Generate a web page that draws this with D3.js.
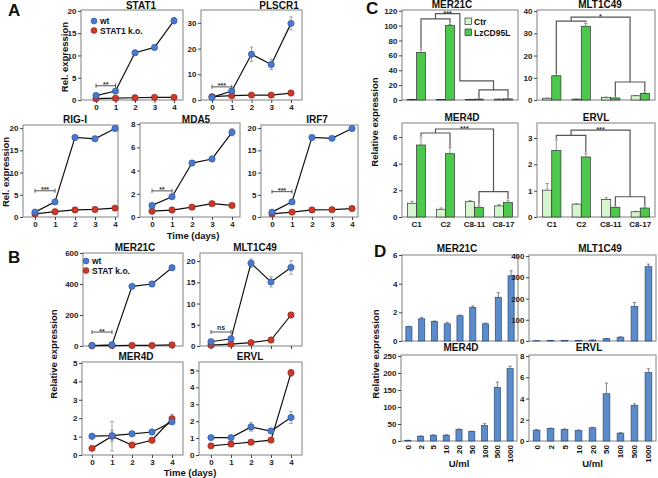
<!DOCTYPE html>
<html><head><meta charset="utf-8">
<script src="https://cdn.jsdelivr.net/npm/d3@7"></script>
<style>
body{margin:0;background:#fff;}
svg{display:block;font-family:Arial,"Liberation Sans",sans-serif;font-weight:bold;}
</style></head><body>
<svg id="c" width="658" height="478"></svg>
<script>
// ---------------- DATA ----------------
const days = [0, 1, 2, 3, 4];
// Panel A
const stat1Wt = [1.0, 2.0, 10.6, 11.8, 17.8];
const stat1WtErr = [0.2, 0.25, 0.5, 0.3, 0.7];
const stat1Ko = [0.3, 0.4, 0.5, 0.6, 0.6];
const stat1KoErr = [0.05, 0.05, 0.05, 0.05, 0.05];
const plscr1Wt = [1.0, 3.5, 17.8, 13.8, 29.8];
const plscr1WtErr = [0.3, 0.7, 2.8, 2.0, 2.5];
const plscr1Ko = [1.3, 1.7, 1.9, 1.9, 2.7];
const plscr1KoErr = [0.2, 0.2, 0.2, 0.2, 0.3];
const rigiWt = [1.1, 3.4, 17.9, 17.6, 19.9];
const rigiWtErr = [0.2, 0.3, 0.5, 0.3, 0.4];
const rigiKo = [0.7, 1.2, 1.6, 1.7, 2.0];
const rigiKoErr = [0.05, 0.1, 0.1, 0.1, 0.1];
const mda5Wt = [1.0, 1.75, 4.65, 5.0, 7.3];
const mda5WtErr = [0.05, 0.08, 0.15, 0.08, 0.3];
const mda5Ko = [0.5, 0.6, 0.85, 1.15, 1.0];
const mda5KoErr = [0.03, 0.03, 0.05, 0.05, 0.05];
const irf7Wt = [1.1, 3.4, 17.9, 17.7, 19.9];
const irf7WtErr = [0.2, 0.3, 0.5, 0.3, 0.4];
const irf7Ko = [0.7, 1.1, 1.6, 1.65, 1.9];
const irf7KoErr = [0.05, 0.1, 0.1, 0.1, 0.1];
// Panel B
const bMer21cWt = [3, 8, 385, 400, 505];
const bMer21cWtErr = [1, 2, 12, 10, 15];
const bMer21cKo = [2, 3, 4, 4, 7];
const bMer21cKoErr = [0.5, 0.5, 0.5, 0.5, 1];
const bMlt1c49Wt = [1.0, 1.7, 19.5, 15.1, 18.5];
const bMlt1c49WtErr = [0.2, 0.5, 1.0, 1.2, 1.6];
const bMlt1c49Ko = [0.2, 0.45, 0.8, 1.4, 7.3];
const bMlt1c49KoErr = [0.05, 0.05, 0.05, 0.1, 0.3];
const bMer4dWt = [1.02, 1.05, 1.15, 1.25, 1.8];
const bMer4dWtErr = [0.15, 0.3, 0.08, 0.1, 0.1];
const bMer4dKo = [0.36, 1.02, 0.54, 0.8, 1.97];
const bMer4dKoErr = [0.05, 0.8, 0.1, 0.05, 0.25];
const bErvlWt = [1.03, 1.03, 1.66, 1.42, 2.22];
const bErvlWtErr = [0.1, 0.05, 0.25, 0.15, 0.35];
const bErvlKo = [0.54, 0.65, 0.76, 0.88, 4.86];
const bErvlKoErr = [0.03, 0.03, 0.03, 0.05, 0.2];
// Panel C
const cLines = ["C1", "C2", "C8-11", "C8-17"];
const cSeries = ["Ctr", "LzCD95L"];
const cMer21cCtr = [0.8, 0.5, 0.8, 1.2];
const cMer21cCtrErr = [0.1, 0.1, 0.1, 0.1];
const cMer21cLz = [64, 100, 1.2, 1.5];
const cMer21cLzErr = [4, 1.5, 0.2, 0.2];
const cMlt1c49Ctr = [0.8, 0.4, 1.2, 1.9];
const cMlt1c49CtrErr = [0.1, 0.05, 0.1, 0.1];
const cMlt1c49Lz = [10.9, 33.2, 0.9, 3.0];
const cMlt1c49LzErr = [0.2, 1.3, 0.1, 0.3];
const cMer4dCtr = [1.03, 0.58, 1.15, 0.83];
const cMer4dCtrErr = [0.15, 0.1, 0.08, 0.1];
const cMer4dLz = [5.4, 4.75, 0.73, 1.1];
const cMer4dLzErr = [0.6, 0.45, 0.12, 0.15];
const cErvlCtr = [1.02, 0.49, 0.67, 0.2];
const cErvlCtrErr = [0.25, 0.02, 0.06, 0.02];
const cErvlLz = [2.53, 2.28, 0.37, 0.34];
const cErvlLzErr = [0.4, 0.12, 0.01, 0.04];
// Panel D
const dDoses = ["0", "2", "5", "10", "20", "50", "100", "500", "1000"];
const dMer21c = [1.0, 1.55, 1.37, 1.2, 1.76, 2.35, 1.2, 3.05, 4.55];
const dMer21cErr = [0.03, 0.1, 0.03, 0.1, 0.05, 0.1, 0.05, 0.32, 0.35];
const dMlt1c49 = [1, 2, 2, 2, 4, 11, 18, 163, 350];
const dMlt1c49Err = [0.2, 0.3, 0.3, 0.3, 0.5, 1, 2, 18, 12];
const dMer4d = [2, 14, 17, 17, 34, 28, 46, 158, 213];
const dMer4dErr = [0.3, 1, 1, 1.5, 1.5, 1, 5, 15, 7];
const dErvl = [1.02, 1.17, 1.09, 0.98, 1.24, 4.45, 0.74, 3.35, 6.45];
const dErvlErr = [0.07, 0.05, 0.05, 0.06, 0.05, 1.0, 0.05, 0.15, 0.35];

// ---------------- STYLE ----------------
const svg = d3.select("#c");
const FRAME = "#8c8c8c";
const WT = "#4a78cf", KO = "#c93a28";
const CTR = "#d6f5cf", LZ = "#4cc94c";
const DBAR = "#5b8bc8";

function styleAxis(g) {
  g.select(".domain").remove();
  g.selectAll(".tick line").attr("stroke", "#444");
  g.selectAll(".tick text").attr("font-size", 8).attr("fill", "#222").attr("font-weight", "bold");
}
function yAxis(b, y, ticks) {
  const ya = svg.append("g").attr("transform", `translate(${b[0]},0)`)
    .call(d3.axisLeft(y).tickValues(ticks).tickSize(3).tickSizeOuter(0).tickPadding(1.5).tickFormat(d => String(d)));
  styleAxis(ya);
}
function frame(b) {
  svg.append("rect").attr("x", b[0]).attr("y", b[2]).attr("width", b[1] - b[0]).attr("height", b[3] - b[2])
    .attr("fill", "none").attr("stroke", FRAME).attr("stroke-width", 1.1);
}
function text(x, y, s, size, opts = {}) {
  const t = svg.append("text").attr("x", x).attr("y", y).text(s).attr("font-size", size)
    .attr("fill", opts.fill || "#111").attr("text-anchor", opts.anchor || "middle");
  if (opts.rotate) t.attr("transform", `rotate(-90,${x},${y})`);
  return t;
}
function errBar(g, cx, yTop, yBot, w, color) {
  g.append("line").attr("x1", cx).attr("x2", cx).attr("y1", yTop).attr("y2", yBot).attr("stroke", color).attr("stroke-width", 0.9);
  g.append("line").attr("x1", cx - w).attr("x2", cx + w).attr("y1", yTop).attr("y2", yTop).attr("stroke", color).attr("stroke-width", 0.9);
}

// ---------------- LINE PANELS (A, B) ----------------
function linePanel(p) {
  const b = p.box;
  const x = d3.scaleLinear().domain([0, 4]).range(p.xp);
  const y = d3.scaleLinear().domain([0, p.yMax]).range([b[3], b[2]]);
  frame(b);
  yAxis(b, y, p.yTicks);
  const xa = svg.append("g").attr("transform", `translate(0,${b[3]})`)
    .call(d3.axisBottom(x).tickValues(days).tickSize(3).tickSizeOuter(0).tickPadding(1)
      .tickFormat(p.xLabels ? d3.format("d") : () => ""));
  styleAxis(xa);
  text(p.tx, p.ty, p.title, 10);
  const g = svg.append("g");
  const line = d3.line().x((d, i) => x(days[i])).y(d => y(d));
  [[p.ko, p.koE, KO, "#7a1d10"], [p.wt, p.wtE, WT, "#24468e"]].forEach(([vals, errs, col, edge]) => {
    vals.forEach((v, i) => {
      errBar(g, x(days[i]), y(v + errs[i]), y(Math.max(0, v - errs[i])), 1.8, "#999");
      g.append("line").attr("x1", x(days[i]) - 1.8).attr("x2", x(days[i]) + 1.8)
        .attr("y1", y(Math.max(0, v - errs[i]))).attr("y2", y(Math.max(0, v - errs[i]))).attr("stroke", "#999").attr("stroke-width", 0.9);
    });
    g.append("path").datum(vals).attr("d", line).attr("fill", "none").attr("stroke", "#111").attr("stroke-width", 1.2);
    g.selectAll(null).data(vals).enter().append("circle")
      .attr("cx", (d, i) => x(days[i])).attr("cy", d => y(d)).attr("r", 3.2)
      .attr("fill", col).attr("stroke", edge).attr("stroke-width", 0.5);
  });
  if (p.sig) {
    const sy = y(p.sig.y);
    g.append("line").attr("x1", x(0)).attr("x2", x(1)).attr("y1", sy).attr("y2", sy).attr("stroke", "#555");
    [0, 1].forEach(d => g.append("line").attr("x1", x(d)).attr("x2", x(d)).attr("y1", sy - 2).attr("y2", sy + 2).attr("stroke", "#555"));
    text((x(0) + x(1)) / 2, sy + (p.sig.t === "ns" ? -2 : 1.5), p.sig.t, 7, { fill: "#333" });
  }
  if (p.legend) {
    const L = p.legend;
    [[WT, "#24468e", L.labels[0]], [KO, "#7a1d10", L.labels[1]]].forEach(([c, e, s], i) => {
      svg.append("circle").attr("cx", L.x).attr("cy", L.y + i * 9.5).attr("r", 3).attr("fill", c).attr("stroke", e).attr("stroke-width", 0.5);
      text(L.x + 6, L.y + i * 9.5 + 3, s, 8.5, { anchor: "start" });
    });
  }
}

const lineSpecs = [
  { title: "STAT1", tx: 141, ty: 9, box: [81, 183, 10, 100], xp: [96, 174], yMax: 20.2, yTicks: [0, 5, 10, 15, 20],
    wt: stat1Wt, wtE: stat1WtErr, ko: stat1Ko, koE: stat1KoErr, xLabels: true, sig: { y: 3.2, t: "**" },
    legend: { x: 94, y: 21, labels: ["wt", "STAT1 k.o."] } },
  { title: "PLSCR1", tx: 279, ty: 9, box: [201, 302, 10, 100], xp: [212, 291], yMax: 35, yTicks: [0, 10, 20, 30],
    wt: plscr1Wt, wtE: plscr1WtErr, ko: plscr1Ko, koE: plscr1KoErr, xLabels: true, sig: { y: 5.1, t: "***" } },
  { title: "RIG-I", tx: 75, ty: 123, box: [23, 118, 125, 217], xp: [35, 115], yMax: 20.7, yTicks: [0, 5, 10, 15, 20],
    wt: rigiWt, wtE: rigiWtErr, ko: rigiKo, koE: rigiKoErr, xLabels: true, sig: { y: 5.9, t: "***" } },
  { title: "MDA5", tx: 196, ty: 123, box: [140, 240, 123, 217], xp: [152, 232], yMax: 8.1, yTicks: [0, 2, 4, 6, 8],
    wt: mda5Wt, wtE: mda5WtErr, ko: mda5Ko, koE: mda5KoErr, xLabels: true, sig: { y: 2.25, t: "**" } },
  { title: "IRF7", tx: 317, ty: 123, box: [261, 358, 125, 217], xp: [272, 352], yMax: 20.7, yTicks: [0, 5, 10, 15, 20],
    wt: irf7Wt, wtE: irf7WtErr, ko: irf7Ko, koE: irf7KoErr, xLabels: true, sig: { y: 5.7, t: "***" } },
  { title: "MER21C", tx: 135, ty: 251, box: [83, 183, 253, 346], xp: [92, 172], yMax: 600, yTicks: [0, 200, 400, 600],
    wt: bMer21cWt, wtE: bMer21cWtErr, ko: bMer21cKo, koE: bMer21cKoErr, xLabels: false, sig: { y: 90, t: "**" },
    legend: { x: 86, y: 261, labels: ["wt", "STAT k.o."] } },
  { title: "MLT1C49", tx: 255, ty: 251, box: [200, 302, 253, 346], xp: [211, 291], yMax: 21.9, yTicks: [0, 5, 10, 15, 20],
    wt: bMlt1c49Wt, wtE: bMlt1c49WtErr, ko: bMlt1c49Ko, koE: bMlt1c49KoErr, xLabels: false, sig: { y: 3.3, t: "ns" } },
  { title: "MER4D", tx: 136, ty: 360, box: [82, 183, 362, 455], xp: [92, 172], yMax: 5.05, yTicks: [0, 1, 2, 3, 4, 5],
    wt: bMer4dWt, wtE: bMer4dWtErr, ko: bMer4dKo, koE: bMer4dKoErr, xLabels: true },
  { title: "ERVL", tx: 250, ty: 360, box: [199, 302, 362, 455], xp: [211, 291], yMax: 5.5, yTicks: [0, 1, 2, 3, 4, 5],
    wt: bErvlWt, wtE: bErvlWtErr, ko: bErvlKo, koE: bErvlKoErr, xLabels: true },
];
lineSpecs.forEach(linePanel);

// ---------------- GROUPED BAR PANELS (C) ----------------
function groupPanel(p) {
  const b = p.box;
  const x0 = d3.scaleBand().domain(cLines).range([b[0], b[1]]).paddingInner(0.38).paddingOuter(0.19);
  const x1 = d3.scaleBand().domain(cSeries).range([0, x0.bandwidth()]);
  const y = d3.scaleLinear().domain([0, p.yMax]).range([b[3], b[2]]);
  frame(b);
  yAxis(b, y, p.yTicks);
  text(p.tx, p.ty, p.title, 10);
  const g = svg.append("g");
  const sets = [[p.ctr, p.ctrE, CTR, "Ctr"], [p.lz, p.lzE, LZ, "LzCD95L"]];
  sets.forEach(([vals, errs, col, s]) => {
    vals.forEach((v, i) => {
      const cx = x0(cLines[i]) + x1(s) + x1.bandwidth() / 2;
      errBar(g, cx, y(v + errs[i]), y(v), 1.6, "#888");
      g.append("rect").attr("x", x0(cLines[i]) + x1(s)).attr("y", y(v)).attr("width", x1.bandwidth())
        .attr("height", y(0) - y(v)).attr("fill", col).attr("stroke", "#333").attr("stroke-width", 0.7);
    });
  });
  if (p.xLabels) {
    cLines.forEach(c => text(x0(c) + x0.bandwidth() / 2, b[3] + 10, c, 8));
  }
  // significance brackets
  const lzX = i => x0(cLines[i]) + x1("LzCD95L") + x1.bandwidth() / 2;
  const topOf = i => y(p.lz[i] + p.lzE[i]) - 1;
  const br = p.br;
  const path = d3.path();
  const yb12 = y(br.b12), yb34 = y(br.b34), ytop = y(br.top);
  path.moveTo(lzX(0), topOf(0)); path.lineTo(lzX(0), yb12); path.lineTo(lzX(1), yb12); path.lineTo(lzX(1), topOf(1));
  path.moveTo(lzX(2), topOf(2)); path.lineTo(lzX(2), yb34); path.lineTo(lzX(3), yb34); path.lineTo(lzX(3), topOf(3));
  const m12 = (lzX(0) + lzX(1)) / 2, m34 = (lzX(2) + lzX(3)) / 2;
  let textX;
  if (br.stepFrac) {
    const sx = m12 + (m34 - m12) * br.stepFrac, sy = y(br.stepY);
    path.moveTo(m12, yb12); path.lineTo(m12, ytop); path.lineTo(sx, ytop); path.lineTo(sx, sy); path.lineTo(m34, sy); path.lineTo(m34, yb34);
    textX = (m12 + sx) / 2;
  } else {
    path.moveTo(m12, yb12); path.lineTo(m12, ytop); path.lineTo(m34, ytop); path.lineTo(m34, yb34);
    textX = (m12 + m34) / 2;
  }
  g.append("path").attr("d", path.toString()).attr("fill", "none").attr("stroke", "#555").attr("stroke-width", 1.2);
  text(textX, ytop + 2, br.t, 7.5, { fill: "#333" });
}

const groupSpecs = [
  { title: "MER21C", tx: 452, ty: 8, box: [402, 518, 10, 100], yMax: 121, yTicks: [0, 20, 40, 60, 80, 100, 120],
    ctr: cMer21cCtr, ctrE: cMer21cCtrErr, lz: cMer21cLz, lzE: cMer21cLzErr, xLabels: false,
    br: { b12: 109, top: 116, b34: 13.5, stepFrac: 0.42, stepY: 25.6, t: "***" } },
  { title: "MLT1C49", tx: 600, ty: 8, box: [537, 655, 10, 100], yMax: 40.5, yTicks: [0, 10, 20, 30, 40],
    ctr: cMlt1c49Ctr, ctrE: cMlt1c49CtrErr, lz: cMlt1c49Lz, lzE: cMlt1c49LzErr, xLabels: false,
    br: { b12: 35.5, top: 37.3, b34: 8.1, t: "*" } },
  { title: "MER4D", tx: 462, ty: 121, box: [402, 518, 123, 217], yMax: 7.05, yTicks: [0, 2, 4, 6],
    ctr: cMer4dCtr, ctrE: cMer4dCtrErr, lz: cMer4dLz, lzE: cMer4dLzErr, xLabels: true,
    br: { b12: 6.3, top: 6.6, b34: 1.9, t: "***" } },
  { title: "ERVL", tx: 596, ty: 121, box: [537, 655, 123, 217], yMax: 3.57, yTicks: [0, 1, 2, 3],
    ctr: cErvlCtr, ctrE: cErvlCtrErr, lz: cErvlLz, lzE: cErvlLzErr, xLabels: true,
    br: { b12: 3.1, top: 3.3, b34: 0.77, t: "***" } },
];
groupSpecs.forEach(groupPanel);

// C legend
cSeries.forEach((s, i) => {
  svg.append("rect").attr("x", 465).attr("y", 18 + i * 11).attr("width", 6.5).attr("height", 6.5)
    .attr("fill", i ? LZ : CTR).attr("stroke", "#333").attr("stroke-width", 0.7);
  text(474, 24.5 + i * 11, s, 8.5, { anchor: "start" });
});

// ---------------- SIMPLE BAR PANELS (D) ----------------
function barPanel(p) {
  const b = p.box;
  const x = d3.scaleBand().domain(dDoses).range([b[0], b[1]]).paddingInner(0.52).paddingOuter(0.3);
  const y = d3.scaleLinear().domain([0, p.yMax]).range([b[3], b[2]]);
  frame(b);
  yAxis(b, y, p.yTicks);
  text(p.tx, p.ty, p.title, 10);
  const g = svg.append("g");
  p.vals.forEach((v, i) => {
    const cx = x(dDoses[i]) + x.bandwidth() / 2;
    errBar(g, cx, y(v + p.errs[i]), y(v), 1.6, "#777");
    g.append("rect").attr("x", x(dDoses[i])).attr("y", y(v)).attr("width", x.bandwidth())
      .attr("height", y(0) - y(v)).attr("fill", DBAR).attr("stroke", "#2a4c7c").attr("stroke-width", 0.7);
  });
  if (p.xLabels) {
    dDoses.forEach(d => text(x(d) + x.bandwidth() / 2 + 3, b[3] + 4, d, 8, { anchor: "end", rotate: true }));
    text((b[0] + b[1]) / 2, 467, "U/ml", 9.5);
  }
}
const barSpecs = [
  { title: "MER21C", tx: 457, ty: 252, box: [402, 518, 255, 341], yMax: 6, yTicks: [0, 2, 4, 6], vals: dMer21c, errs: dMer21cErr, xLabels: false },
  { title: "MLT1C49", tx: 600, ty: 252, box: [529, 656, 255, 341], yMax: 405, yTicks: [0, 100, 200, 300, 400], vals: dMlt1c49, errs: dMlt1c49Err, xLabels: false },
  { title: "MER4D", tx: 461, ty: 351, box: [401, 517, 355, 441], yMax: 253, yTicks: [0, 50, 100, 150, 200, 250], vals: dMer4d, errs: dMer4dErr, xLabels: true },
  { title: "ERVL", tx: 589, ty: 351, box: [529, 656, 355, 441], yMax: 8.1, yTicks: [0, 2, 4, 6, 8], vals: dErvl, errs: dErvlErr, xLabels: true },
];
barSpecs.forEach(barPanel);

// ---------------- LABELS ----------------
text(8, 16, "A", 17, { anchor: "start" });
text(8, 263, "B", 17, { anchor: "start" });
text(366, 14, "C", 17, { anchor: "start" });
text(374, 257, "D", 17, { anchor: "start" });
text(68, 57, "Rel. expression", 9.5, { rotate: true });
text(9, 172, "Rel. expression", 9.5, { rotate: true });
text(57, 354, "Relative expression", 9.5, { rotate: true });
text(378, 122, "Relative expression", 9.5, { rotate: true });
text(379, 354, "Relative expression", 9.5, { rotate: true });
text(193, 239, "Time (days)", 9.5);
text(190, 476, "Time (days)", 9.5);
</script>
</body></html>
